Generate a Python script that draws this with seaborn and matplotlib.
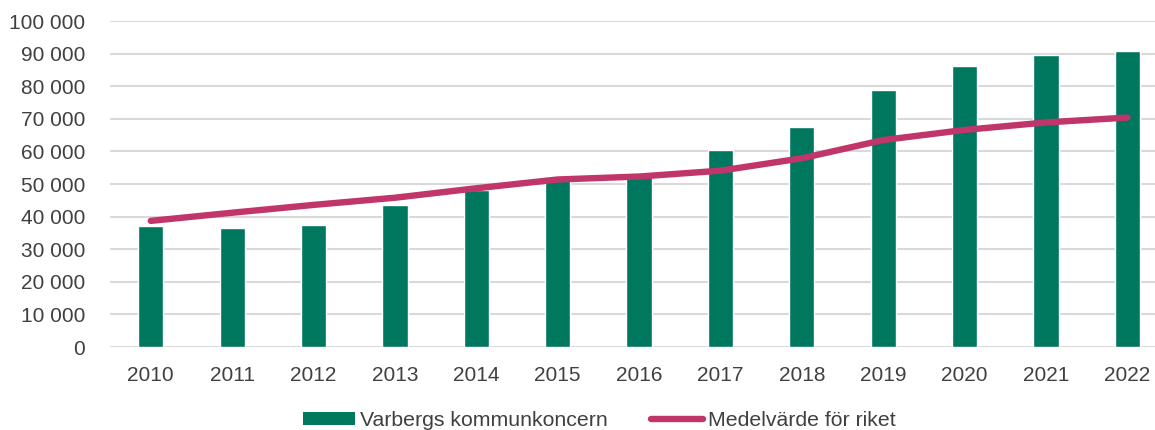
import matplotlib.pyplot as plt
import seaborn as sns
import pandas as pd
import numpy as np
from matplotlib.patches import Patch
from matplotlib.lines import Line2D
from matplotlib.ticker import FuncFormatter

years = ["2010", "2011", "2012", "2013", "2014", "2015", "2016",
         "2017", "2018", "2019", "2020", "2021", "2022"]
varberg = [37200, 36600, 37400, 43700, 48100, 51100, 53300,
           60400, 67500, 78900, 86300, 89600, 90900]
riket = [38700, 41200, 43600, 45800, 48700, 51400, 52300,
         54100, 57900, 63500, 66600, 68900, 70400]

green = "#00775F"
pink = "#C0356A"
textc = "#404040"
gridc = "#D9D9D9"

sns.set_theme(style="white")
plt.rcParams['font.family'] = ['Liberation Sans', 'DejaVu Sans']

df = pd.DataFrame({"year": years, "varberg": varberg, "riket": riket})
df["pos"] = np.arange(len(years))

fig = plt.figure(figsize=(11.55, 4.3), dpi=100)
ax = fig.add_axes([0.0953, 0.193, 0.916, 0.758])

sns.barplot(data=df, x="year", y="varberg", color=green, width=0.31,
            saturation=1, ax=ax, zorder=2)
sns.lineplot(data=df, x="pos", y="riket", color=pink, linewidth=4.6,
             ax=ax, zorder=3, solid_capstyle="round")

ax.set_xlim(-0.5, len(years) - 0.5)
ax.set_ylim(0, 100000)
ax.set_yticks(np.arange(0, 100001, 10000))
ax.yaxis.set_major_formatter(FuncFormatter(lambda v, p: f"{int(v):,}".replace(",", " ")))
ax.set_xticks(df["pos"])
ax.set_xticklabels(years)
ax.grid(axis="y", color=gridc, linewidth=1.5, zorder=0)
ax.set_axisbelow(True)
for s in ax.spines.values():
    s.set_visible(False)
ax.tick_params(axis="both", length=0, labelsize=15, colors=textc)
ax.tick_params(axis="x", pad=14)
ax.tick_params(axis="y", pad=18)
ax.set_xlabel("")
ax.set_ylabel("")

handles = [Patch(facecolor=green, edgecolor="none"),
           Line2D([0], [0], color=pink, linewidth=4.6, solid_capstyle="round")]
fig.legend(handles, ["Varbergs kommunkoncern", "Medelvärde för riket"],
           loc="center", bbox_to_anchor=(0.519, 0.022), ncol=2, frameon=False,
           fontsize=15.3, labelcolor=textc, handlelength=2.45, handleheight=0.6,
           handletextpad=0.25, columnspacing=2.0)

fig.savefig("out.png", dpi=100)
